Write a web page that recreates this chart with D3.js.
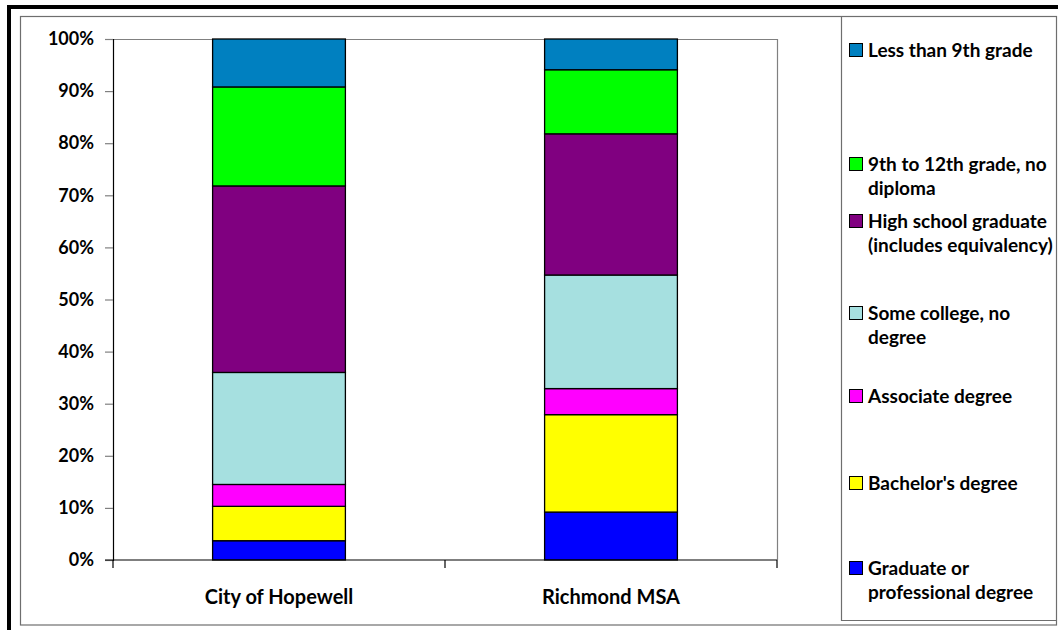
<!DOCTYPE html>
<html>
<head>
<meta charset="utf-8">
<script src="https://cdn.jsdelivr.net/npm/d3@7"></script>
<style>
  html, body { margin: 0; padding: 0; background: #fff; }
  svg { display: block; }
  text { font-family: Lato, "Open Sans", sans-serif; font-weight: bold; fill: #000; }
</style>
</head>
<body>
<svg id="chart" width="1058" height="630"></svg>
<script>
// Educational attainment shares (percent), stacked bottom to top
const categories = ["City of Hopewell", "Richmond MSA"];
const seriesNames = [
  "Graduate or professional degree",
  "Bachelor's degree",
  "Associate degree",
  "Some college, no degree",
  "High school graduate (includes equivalency)",
  "9th to 12th grade, no diploma",
  "Less than 9th grade"
];
const graduate    = [3.7, 9.2];
const bachelors   = [6.6, 18.7];
const associate   = [4.2, 5.0];
const someCollege = [21.5, 21.8];
const highSchool  = [35.8, 27.1];
const grade9to12  = [19.0, 12.3];
const lessThan9   = [9.2, 5.9];
const yTicks = [0, 0.1, 0.2, 0.3, 0.4, 0.5, 0.6, 0.7, 0.8, 0.9, 1.0];

// Legend wording with its line breaks, top entry first
const legendLines = [
  ["Less than 9th grade"],
  ["9th to 12th grade, no", "diploma"],
  ["High school graduate", "(includes equivalency)"],
  ["Some college, no", "degree"],
  ["Associate degree"],
  ["Bachelor's degree"],
  ["Graduate or", "professional degree"]
];

const seriesValues = [graduate, bachelors, associate, someCollege, highSchool, grade9to12, lessThan9];
const colors = ["#0000FF", "#FFFF00", "#FF00FF", "#A6E0E0", "#800080", "#00FF00", "#0080C0"];

const table = categories.map((c, i) => {
  const row = { category: c };
  seriesNames.forEach((s, k) => { row[s] = seriesValues[k][i]; });
  return row;
});

const stack = d3.stack().keys(seriesNames).offset(d3.stackOffsetExpand);
const layers = stack(table);

const svg = d3.select("#chart");

// outer frame
svg.append("line").attr("x1", 9).attr("x2", 9).attr("y1", 5).attr("y2", 630)
  .attr("stroke", "#000").attr("stroke-width", 4);
svg.append("line").attr("x1", 7).attr("x2", 1058).attr("y1", 7).attr("y2", 7)
  .attr("stroke", "#000").attr("stroke-width", 4);

// chart area border
svg.append("rect").attr("x", 20.5).attr("y", 16.5).attr("width", 1036).attr("height", 608.5)
  .attr("fill", "#fff").attr("stroke", "#6e6e6e").attr("stroke-width", 1.2);

const plot = { left: 113, right: 777, top: 39, bottom: 560 };

const x = d3.scaleBand().domain(categories)
  .range([plot.left, plot.right]).paddingInner(0.6).paddingOuter(0.3);
const xOuter = d3.scaleBand().domain(categories).range([plot.left, plot.right]).padding(0);
const y = d3.scaleLinear().domain([0, 1]).range([plot.bottom, plot.top]);

// plot area frame (top and right edges)
svg.append("path")
  .attr("d", `M${plot.left},${plot.top + 0.5}H${plot.right + 0.5}V${plot.bottom}`)
  .attr("fill", "none").attr("stroke", "#808080").attr("stroke-width", 1.2);

// stacked bars
svg.append("g").selectAll("g").data(layers).join("g")
  .attr("fill", (d, i) => colors[i])
  .selectAll("rect").data(d => d).join("rect")
  .attr("x", d => x(d.data.category))
  .attr("width", x.bandwidth())
  .attr("y", d => y(d[1]))
  .attr("height", d => y(d[0]) - y(d[1]))
  .attr("stroke", "#000").attr("stroke-width", 1.3);

// y axis
const yAxis = svg.append("g").attr("transform", `translate(${plot.left},0)`)
  .call(d3.axisLeft(y).tickValues(yTicks).tickFormat(d3.format(".0%")).tickSize(8).tickPadding(11));
yAxis.select(".domain").attr("stroke", "#000").attr("stroke-width", 1.2);
yAxis.selectAll(".tick line").attr("stroke", "#808080").attr("stroke-width", 1.2);
yAxis.selectAll(".tick text").style("font-size", "18px").attr("font-family", null);

// x axis: baseline with ticks between categories
const xAxis = svg.append("g").attr("transform", `translate(0,${plot.bottom})`);
xAxis.append("line").attr("x1", plot.left - 8).attr("x2", plot.right)
  .attr("stroke", "#000").attr("stroke-width", 1.2);
const boundaries = [xOuter(categories[0])].concat(categories.map(c => xOuter(c) + xOuter.bandwidth()));
xAxis.selectAll(".sep").data(boundaries).join("line").attr("class", "sep")
  .attr("x1", d => d).attr("x2", d => d).attr("y1", 0).attr("y2", 8)
  .attr("stroke", "#000").attr("stroke-width", 1.2);
xAxis.selectAll(".cat").data(categories).join("text").attr("class", "cat")
  .attr("x", d => x(d) + x.bandwidth() / 2).attr("y", 37)
  .attr("text-anchor", "middle").attr("dy", "0.35em")
  .style("font-size", "20px").text(d => d);

// legend panel
const legend = { left: 841, right: 1057, top: 17, bottom: 620 };
svg.append("path")
  .attr("d", `M${legend.left + 0.5},${legend.top}V${legend.bottom + 0.5}H${legend.right}`)
  .attr("fill", "none").attr("stroke", "#6e6e6e").attr("stroke-width", 1.2);

const legendRowY = [50, 164, 221, 313, 396, 483, 568];
const lineGap = 24;
const legendColors = colors.slice().reverse();
const items = svg.append("g").selectAll("g").data(legendLines).join("g")
  .attr("transform", (d, i) => `translate(0,${legendRowY[i]})`);
items.append("rect").attr("x", 849.5).attr("y", -6.5).attr("width", 13).attr("height", 13)
  .attr("fill", (d, i) => legendColors[i]).attr("stroke", "#000").attr("stroke-width", 1);
items.each(function (lines) {
  d3.select(this).selectAll("text").data(lines).join("text")
    .attr("x", 868).attr("y", (d, j) => j * lineGap).attr("dy", "0.35em")
    .style("font-size", "19px").text(d => d);
});
</script>
</body>
</html>
